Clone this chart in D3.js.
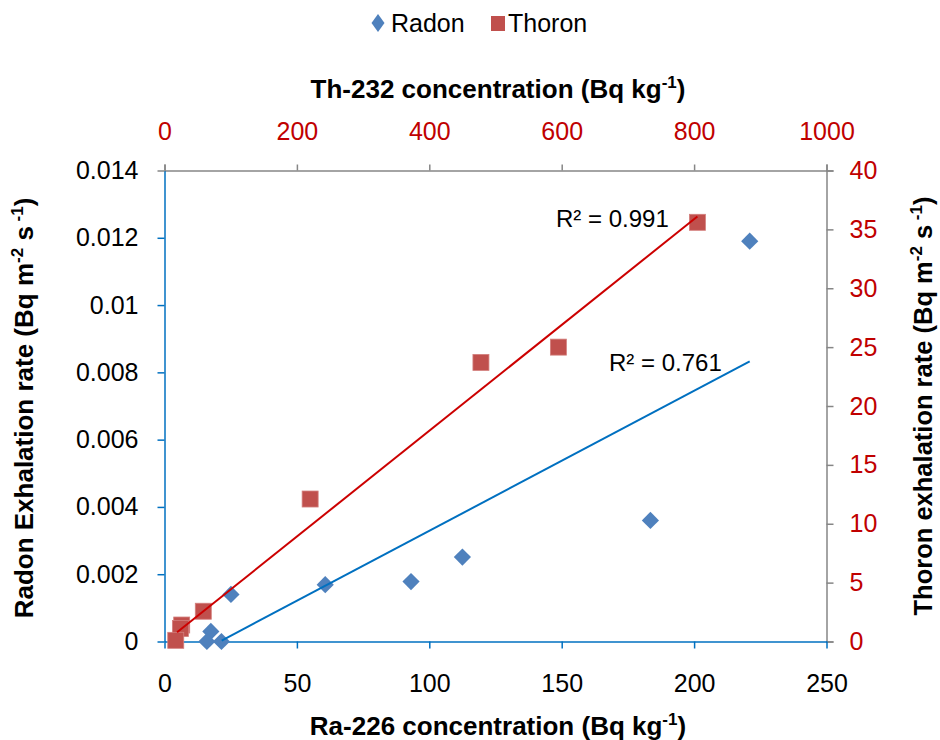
<!DOCTYPE html>
<html><head><meta charset="utf-8">
<script src="https://cdn.jsdelivr.net/npm/d3@7"></script>
<style>
body{margin:0;background:#fff;}
svg{display:block;font-family:"Liberation Sans",Arial,sans-serif;}
</style></head>
<body><svg id="c" width="940" height="740"></svg>
<script>
// ---- data ----
const radonRa   = [221, 183.5, 112.5, 93.1, 60.7, 25.1, 17.5, 16, 21.5];
const radonRate = [0.0119, 0.0036, 0.00251, 0.00178, 0.00169, 0.0014, 0.0003, 0.0, 0.0];
const thoronTh   = [805, 595, 478, 220, 58.6, 26, 24, 17];
const thoronRate = [35.6, 25.0, 23.7, 12.1, 2.57, 1.4, 1.1, 0.1];
// linear trendlines [slope, intercept], fitted range, R² label
const radonTrend = [0.0000416, -0.00087];
const radonTrendRange = [21.6, 221];
const thoronTrend = [0.04493, -0.073];
const thoronTrendRange = [19, 805];
const r2Labels = ["R² = 0.991", "R² = 0.761"];
const xTicks  = [0, 50, 100, 150, 200, 250];
const x2Ticks = [0, 200, 400, 600, 800, 1000];
const yTicks  = [0, 0.002, 0.004, 0.006, 0.008, 0.01, 0.012, 0.014];
const y2Ticks = [0, 5, 10, 15, 20, 25, 30, 35, 40];
const seriesNames = ["Radon", "Thoron"];

// ---- layout ----
const L = 164.5, R = 826.5, T = 170.5, B = 641.5;
const svg = d3.select("#c");
const x  = d3.scaleLinear().domain([0, 250]).range([L, R]);
const x2 = d3.scaleLinear().domain([0, 1000]).range([L, R]);
const y  = d3.scaleLinear().domain([0, 0.014]).range([B, T]);
const y2 = d3.scaleLinear().domain([0, 40]).range([B, T]);

const blue = "#0070C0", gray = "#868686", red = "#C00000";
const diamondFill = "#4F81BD", squareFill = "#C0504D";
const TICK_FS = 25;

function styleAxis(g, col, txtCol) {
  g.select(".domain").attr("stroke", col).attr("stroke-width", 1.5);
  g.selectAll(".tick line").attr("stroke", col).attr("stroke-width", 1.5);
  g.selectAll(".tick text").attr("fill", txtCol).attr("font-size", TICK_FS)
    .attr("font-family", "Liberation Sans, Arial, sans-serif");
}

// top axis (gray)
const gTop = svg.append("g").attr("transform", `translate(0,${T})`)
  .call(d3.axisTop(x2).tickValues(x2Ticks).tickSize(6).tickSizeOuter(6).tickPadding(33).tickFormat(d3.format("d")));
styleAxis(gTop, gray, red);
gTop.selectAll(".tick text").attr("dy", "0.35em");

// right axis (gray)
const gRight = svg.append("g").attr("transform", `translate(${R},0)`)
  .call(d3.axisRight(y2).tickValues(y2Ticks).tickSize(7).tickSizeOuter(7).tickPadding(16).tickFormat(d3.format("d")));
styleAxis(gRight, gray, red);

// left axis (blue)
const fmtY = d => d === 0 ? "0" : String(+d.toFixed(3));
const gLeft = svg.append("g").attr("transform", `translate(${L},0)`)
  .call(d3.axisLeft(y).tickValues(yTicks).tickSize(7).tickSizeOuter(0).tickPadding(19).tickFormat(fmtY));
styleAxis(gLeft, blue, "#000");
gLeft.select(".tick:last-of-type line").attr("stroke", gray);

// bottom axis (blue)
const gBot = svg.append("g").attr("transform", `translate(0,${B})`)
  .call(d3.axisBottom(x).tickValues(xTicks).tickSize(7).tickSizeOuter(0).tickPadding(35).tickFormat(d3.format("d")));
styleAxis(gBot, blue, "#000");
gBot.selectAll(".tick text").attr("dy", "0.35em");

// markers
const diamondPath = "M0,-8.6L8.6,0L0,8.6L-8.6,0Z";
const radon = radonRa.map((v, i) => ({x: v, y: radonRate[i]}));
const thoron = thoronTh.map((v, i) => ({x: v, y: thoronRate[i]}));

svg.append("g").selectAll("path").data(radon).join("path")
  .attr("d", diamondPath)
  .attr("transform", d => `translate(${x(d.x)},${y(d.y)})`)
  .attr("fill", diamondFill);

svg.append("g").selectAll("rect").data(thoron).join("rect")
  .attr("x", d => x2(d.x) - 8).attr("y", d => y2(d.y) - 8)
  .attr("width", 16).attr("height", 16)
  .attr("fill", squareFill).attr("stroke", "#D37F7D").attr("stroke-width", 0.8);

// trendlines
const line = d3.line();
svg.append("path")
  .attr("d", line(thoronTrendRange.map(v => [x2(v), y2(thoronTrend[0] * v + thoronTrend[1])])))
  .attr("stroke", "#CC0000").attr("stroke-width", 2).attr("fill", "none");
svg.append("path")
  .attr("d", line(radonTrendRange.map(v => [x(v), y(radonTrend[0] * v + radonTrend[1])])))
  .attr("stroke", blue).attr("stroke-width", 2).attr("fill", "none");

// R² labels
svg.append("text").attr("x", 556).attr("y", 227).attr("font-size", 24).attr("fill", "#000").text(r2Labels[0]);
svg.append("text").attr("x", 609).attr("y", 371).attr("font-size", 24).attr("fill", "#000").text(r2Labels[1]);

// axis titles
const TFS = 26;
function title(sel, parts) {
  parts.forEach(p => {
    const ts = sel.append("tspan").text(p[0]);
    if (p[1]) ts.attr("dy", p[1]);
    if (p[2]) ts.attr("font-size", p[2]);
  });
}
const tTop = svg.append("text").attr("x", 498).attr("y", 98).attr("text-anchor", "middle")
  .attr("font-weight", "bold").attr("font-size", TFS).attr("fill", "#000");
title(tTop, [["Th-232 concentration (Bq kg"], ["-1", -10, 17], [")", 10]]);

const tBot = svg.append("text").attr("x", 498).attr("y", 735).attr("text-anchor", "middle")
  .attr("font-weight", "bold").attr("font-size", TFS).attr("fill", "#000");
title(tBot, [["Ra-226 concentration (Bq kg"], ["-1", -10, 17], [")", 10]]);

const tLeft = svg.append("text").attr("transform", "translate(33,408) rotate(-90)").attr("text-anchor", "middle")
  .attr("font-weight", "bold").attr("font-size", TFS).attr("fill", "#000");
title(tLeft, [["Radon Exhalation rate (Bq m"], ["-2", -10, 17], [" s", 10], [" -1", -10, 17], [")", 10]]);

const tRight = svg.append("text").attr("transform", "translate(932,406) rotate(-90)").attr("text-anchor", "middle")
  .attr("font-weight", "bold").attr("font-size", 25.5).attr("fill", "#000");
title(tRight, [["Thoron exhalation rate (Bq m"], ["-2", -10, 17], [" s", 10], [" -1", -10, 17], [")", 10]]);

// legend
const lg = svg.append("g");
lg.append("path").attr("d", "M0,-9L6.5,0L0,9L-6.5,0Z").attr("transform", "translate(378,23)").attr("fill", diamondFill);
lg.append("text").attr("x", 391).attr("y", 32).attr("font-size", 25).attr("fill", "#000").text(seriesNames[0]);
lg.append("rect").attr("x", 491).attr("y", 16).attr("width", 14).attr("height", 15).attr("fill", squareFill);
lg.append("text").attr("x", 508).attr("y", 32).attr("font-size", 25).attr("fill", "#000").text(seriesNames[1]);
</script></body></html>
